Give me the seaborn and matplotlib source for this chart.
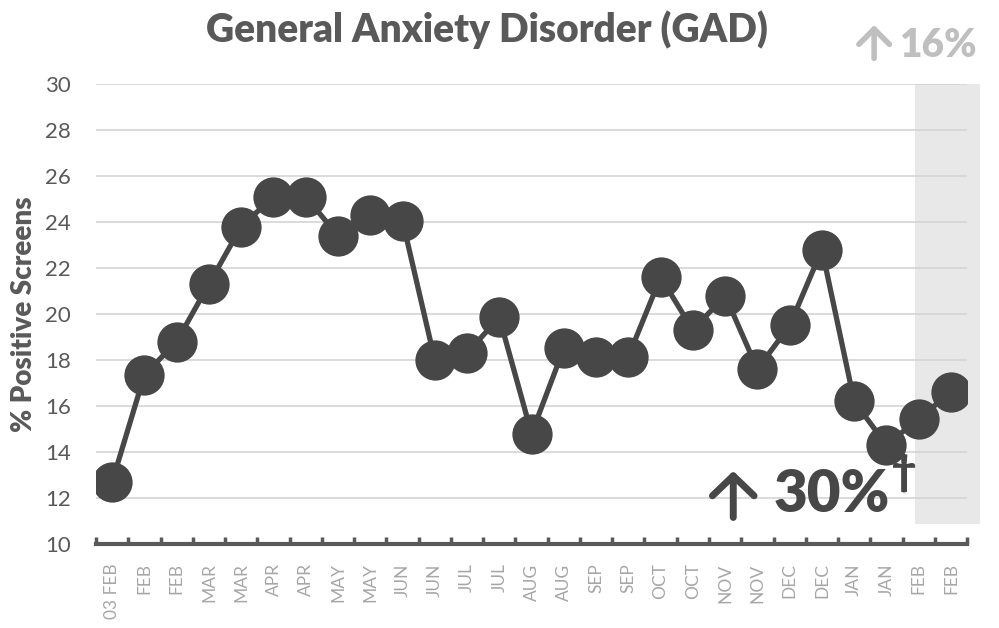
# GAD-skjermingsandel over tid
import numpy as np
import pandas as pd
import matplotlib.pyplot as plt
import seaborn as sns
from matplotlib.patches import Rectangle

maaneder = ["03 FEB", "FEB", "FEB", "MAR", "MAR", "APR", "APR", "MAY", "MAY",
            "JUN", "JUN", "JUL", "JUL", "AUG", "AUG", "SEP", "SEP", "OCT",
            "OCT", "NOV", "NOV", "DEC", "DEC", "JAN", "JAN", "FEB", "FEB"]
andel = [12.7, 17.35, 18.8, 21.3, 23.8, 25.1, 25.1, 23.4, 24.3,
         24.05, 18.0, 18.3, 19.85, 14.8, 18.5, 18.15, 18.15, 21.6,
         19.3, 20.8, 17.6, 19.5, 22.8, 16.2, 14.3, 15.45, 16.6]
y_ticks = list(range(10, 31, 2))

df = pd.DataFrame({"pos": np.arange(len(andel)), "andel": andel})

sns.set_style("white")
plt.rcParams["font.family"] = ["Lato", "DejaVu Sans"]

mork = "#474747"
fig = plt.figure(figsize=(9.99, 6.28), dpi=100)
ax = fig.add_axes([0.0961, 0.1338, 0.872, 0.7325])

# Grått felt bak de siste punktene
ax.add_patch(Rectangle((24.88, 10.87), 2.02, 19.13, facecolor="#e8e8e8",
                       edgecolor="none", zorder=0, clip_on=False))

sns.lineplot(data=df, x="pos", y="andel", ax=ax, color=mork, linewidth=3.8,
             marker="o", markersize=29, markeredgewidth=0, zorder=3)

ax.set_xlim(-0.5, len(andel) - 0.5)
ax.set_ylim(10, 30)
ax.set_yticks(y_ticks)
ax.set_yticklabels([str(v) for v in y_ticks], fontsize=16, color="#595959")
ax.grid(axis="y", color="#d4d4d4", linewidth=1.2, zorder=0)
ax.set_axisbelow(True)

ax.set_xticks(df["pos"])
ax.set_xticklabels(maaneder, rotation=90, fontsize=12.5, color="#a6a6a6")
ax.set_xticks(np.arange(-0.5, len(andel), 1), minor=True)
ax.tick_params(axis="x", which="major", bottom=True, length=0, pad=14)
ax.tick_params(axis="x", which="minor", bottom=True, direction="in", length=5,
               width=2.5, color="#595959")
ax.tick_params(axis="y", length=0, pad=18)

for s in ["top", "right", "left"]:
    ax.spines[s].set_visible(False)
ax.spines["bottom"].set_color("#595959")
ax.spines["bottom"].set_linewidth(3)

ax.set_xlabel("")
ax.set_ylabel("% Positive Screens", fontsize=20, fontweight="heavy",
              color="#595959", labelpad=6)

fig.text(0.487, 0.953, "General Anxiety Disorder (GAD)", ha="center", va="center",
         fontsize=28, fontweight="heavy", color="#595959")

# Piler tegnet som annotasjoner (tykkere enn tegnet i fonten)
def pil(x, y0, y1, farge, lw, bredde, lengde):
    ax.annotate("", xy=(x, y1), xytext=(x, y0), xycoords="figure fraction",
                textcoords="figure fraction", annotation_clip=False,
                arrowprops=dict(arrowstyle=f"->,head_length={lengde},head_width={bredde}",
                                color=farge, lw=lw, shrinkA=0, shrinkB=0,
                                mutation_scale=20, capstyle="round"))

pil(0.875, 0.907, 0.960, "#bfbfbf", 4.0, 0.55, 0.55)
fig.text(0.978, 0.928, "16%", ha="right", va="center", fontsize=28,
         fontweight="heavy", color="#bfbfbf")
pil(0.734, 0.176, 0.250, mork, 5.0, 0.75, 0.72)
fig.text(0.891, 0.213, "30%", ha="right", va="center", fontsize=42,
         fontweight="heavy", color=mork)
fig.text(0.893, 0.248, "†", ha="left", va="center", fontsize=30,
         fontweight="heavy", color=mork)

fig.savefig("out.png", dpi=100)
